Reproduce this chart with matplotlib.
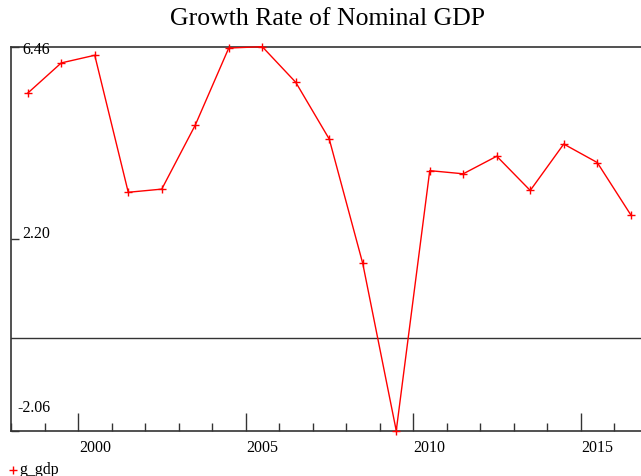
import matplotlib
matplotlib.use("Agg")
import matplotlib.pyplot as plt
import matplotlib.transforms as mtransforms

plt.rcParams['font.family'] = ['Liberation Serif', 'DejaVu Serif']

# Annual growth rate of nominal GDP (%), observations centred within each year
years = [1998, 1999, 2000, 2001, 2002, 2003, 2004, 2005, 2006, 2007,
         2008, 2009, 2010, 2011, 2012, 2013, 2014, 2015, 2016]
g_gdp = [5.43, 6.10, 6.27, 3.23, 3.30, 4.72, 6.43, 6.46, 5.67, 4.41,
         1.65, -2.06, 3.71, 3.64, 4.03, 3.27, 4.30, 3.89, 2.73]

y_ticks = [6.46, 2.20, -2.06]
y_tick_labels = ["6.46", "2.20", "-2.06"]
x_label_years = [2000, 2005, 2010, 2015]

fig = plt.figure(figsize=(6.41, 4.77), dpi=100)
ax = fig.add_axes([11 / 641, 45.3 / 477, 636.5 / 641, 384 / 477])

xpos = [y + 0.5 for y in years]
ax.plot(xpos, g_gdp, color='#ff0000', lw=1.0, marker='+', ms=6, mew=1.0,
        clip_on=False, zorder=3)

ax.set_xlim(1998, 2017)
ax.set_ylim(min(y_ticks), max(y_ticks))

axis_col = '#333333'
ax.axhline(0, color=axis_col, lw=1.0, zorder=1)
for side in ['left', 'bottom', 'top']:
    ax.spines[side].set_color(axis_col)
    ax.spines[side].set_linewidth(1.2)
ax.spines['right'].set_visible(False)

# Year boundaries as ticks: long at every fifth year, short otherwise
ax.set_xticks(x_label_years)
ax.set_xticks([y for y in range(1998, 2018) if y not in x_label_years], minor=True)
ax.tick_params(axis='x', which='major', direction='in', length=13, width=1,
               color=axis_col, labelbottom=False)
ax.tick_params(axis='x', which='minor', direction='in', length=6, width=1,
               color=axis_col)
ax.set_yticks(y_ticks)
ax.tick_params(axis='y', direction='in', length=6, width=1, color=axis_col,
               labelleft=False)

# Year labels centred within the year interval
xtrans = mtransforms.blended_transform_factory(ax.transData, fig.transFigure)
for yr in x_label_years:
    ax.text(yr + 0.5, 1 - 446 / 477, str(yr), transform=xtrans,
            ha='center', va='center_baseline', fontsize=11.5)

# Value labels drawn inside the plotting area
label_y = [48.5, 232.5, 406]
for lab, py in zip(y_tick_labels, label_y):
    fig.text(50 / 641, 1 - py / 477, lab, ha='right', va='center_baseline',
             fontsize=11.5)

fig.text(328 / 641, 1 - 19 / 477, "Growth Rate of Nominal GDP", ha='center',
         va='center', fontsize=18.5)

# Legend entry
fig.lines.append(plt.Line2D([13 / 641], [1 - 471 / 477], transform=fig.transFigure,
                            color='#ff0000', marker='+', ms=6, mew=1.0, ls='none'))
fig.text(19 / 641, 1 - 468 / 477, "g_gdp", ha='left', va='center_baseline',
         fontsize=11.5)

fig.savefig("out.png", dpi=100)
